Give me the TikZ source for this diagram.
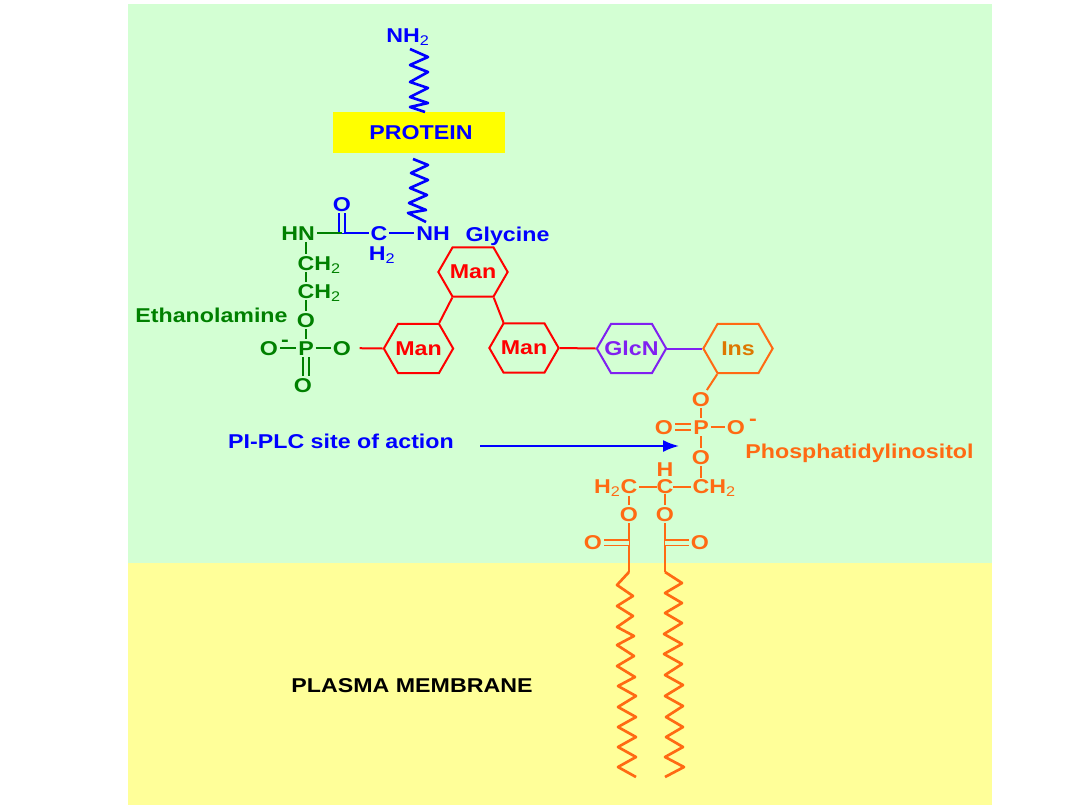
\documentclass[tikz,border=0pt]{standalone}
\usepackage{xcolor}
\usepackage{fontspec}
\setmainfont[FakeStretch=1.16]{Liberation Sans}
\definecolor{Mint}{HTML}{D3FFD3}
\definecolor{Butter}{HTML}{FFFF99}
\definecolor{Lemon}{HTML}{FFFF00}
\definecolor{Pblue}{HTML}{0000FF}
\definecolor{Pgreen}{HTML}{008000}
\definecolor{Pred}{HTML}{FF0000}
\definecolor{Ppurple}{HTML}{8020F0}
\definecolor{Porange}{HTML}{FF6A13}
\definecolor{Pamber}{HTML}{DD7700}
\usepackage{tikz}
\usetikzlibrary{arrows.meta,shapes.symbols}
\newcommand{\subtwo}{\textsubscript{\mdseries 2}}
\tikzset{
  atom/.style={font=\fontsize{15pt}{15pt}\bfseries,inner sep=0pt,outer sep=1.5pt,text height=10.5pt,text depth=0pt},
  tail/.style={atom,outer sep=0pt,xshift=-1.5pt},
  label/.style={font=\fontsize{15pt}{15pt}\bfseries,inner sep=0pt},
  hexa/.style={signal,signal to=east and west,signal pointer angle=120,draw,line width=1.5pt,
    minimum width=52pt,minimum height=37pt,inner sep=0pt,font=\fontsize{15pt}{15pt}\bfseries},
  bond/.style={line width=1.5pt},
  dbond/.style={line width=1.4pt,double=Mint,double distance=3pt},
  spine/.style={line width=2pt,line join=round}
}
\begin{document}
\begin{tikzpicture}[x=.75pt,y=-.75pt]
\fill[white] (0,0) rectangle (1080,810);
\useasboundingbox (0,0) rectangle (1080,810);
\fill[Mint] (128,4) rectangle (992,563);
\fill[Butter] (128,563) rectangle (992,805);
% protein part
\node[fill=Lemon,text=Pblue,label,minimum width=129pt,minimum height=31pt] (prot) at (419,132.5) {};
\node[label,text=Pblue] (protxt) at (421,133) {PROTEIN};
\node[atom,text=Pblue] (nhtwo) at (408,35) {NH\subtwo};
\coordinate (spa) at (410,49);
\coordinate (spb) at (425,112);
\coordinate (spc) at (413,159);
\coordinate (spd) at (426,222);
\draw[Pblue,spine] (spa)--(428,57)--(410,65)--(428,72)--(410,82)--(428,88)--(410,97)--(428,103)--(410,107)--(spb);
\draw[Pblue,spine] (spc)--(428,165)--(411,173)--(428,180)--(410,188)--(427,195)--(409,203)--(426,210)--(408,213)--(spd);
\node[atom,text=Pblue] (nh) at (433,233) {NH};
\node[atom,text=Pblue] (ca) at (379,233) {C};
\node[atom,text=Pblue] (hb) at (382,253) {H\subtwo};
\node[atom,text=Pblue] (oa) at (342,204) {O};
\node[label,text=Pblue] (gly) at (507.5,236) {Glycine};
\coordinate (cc) at (342,233);
\draw[bond,Pblue] (ca)--(nh);
\draw[bond,Pblue] (cc)--(ca);
\draw[dbond,Pblue] (oa)--(cc);
% ethanolamine part
\node[atom,text=Pgreen] (hn) at (298,233) {HN};
\node[atom,text=Pgreen] (cb) at (306,263) {C};
\node[tail,text=Pgreen,anchor=west] (hc) at (cb.east) {H\subtwo};
\node[atom,text=Pgreen] (cd) at (306,291) {C};
\node[tail,text=Pgreen,anchor=west] (he) at (cd.east) {H\subtwo};
\node[atom,text=Pgreen] (ob) at (306,320) {O};
\node[atom,text=Pgreen] (pa) at (306,348) {P};
\node[atom,text=Pgreen] (oc) at (269,348) {O};
\node[atom,text=Pgreen] (od) at (342,348) {O};
\node[atom,text=Pgreen] (oe) at (303,385) {O};
\node[label,text=Pgreen] (mina) at (285,343) {-};
\node[label,text=Pgreen] (etha) at (211.5,315) {Ethanolamine};
\draw[bond,Pgreen] (hn)--(cc);
\draw[bond,Pgreen] (cb |- hn.south)--(cb);
\draw[bond,Pgreen] (cb)--(cd);
\draw[bond,Pgreen] (cd)--(ob);
\draw[bond,Pgreen] (ob)--(pa);
\draw[bond,Pgreen] (oc)--(pa);
\draw[bond,Pgreen] (pa)--(od);
\draw[dbond,Pgreen] (pa)--(pa |- oe.north);
% sugars
\node[hexa,Pred] (mantop) at (473,272) {\makebox[0pt]{Man}};
\node[hexa,Pred] (manleft) at (418.5,348.5) {\makebox[0pt]{Man}};
\node[hexa,Pred] (manright) at (524,348) {\makebox[0pt]{Man}};
\node[hexa,Ppurple] (glcn) at (631.5,348.5) {\makebox[0pt]{GlcN}};
\node[hexa,Porange,text=Pamber] (ins) at (738,348.5) {\makebox[0pt]{Ins}};
\draw[bond,Pred,shorten <=5pt] (od)--(manleft.west);
\draw[bond,Pred] (mantop.231)--(manleft.51);
\draw[bond,Pred] (mantop.309)--(manright.129);
\draw[bond,Pred] (manright.east)--(glcn.west);
\draw[bond,Ppurple] (glcn.east)--(ins.west);
% phosphatidylinositol
\node[atom,text=Porange] (of) at (701,399) {O};
\node[atom,text=Porange] (pb) at (701,427) {P};
\node[atom,text=Porange] (og) at (664,427) {O};
\node[atom,text=Porange] (oh) at (736,427) {O};
\node[atom,text=Porange] (oi) at (701,457) {O};
\node[label,text=Porange] (minb) at (753,422) {-};
\node[label,text=Porange] (phos) at (859.5,453) {Phosphatidylinositol};
\node[atom,text=Porange,outer sep=0pt] (hk) at (665,469) {H};
\node[atom,text=Porange,outer sep=0pt] (ce) at (665,486.5) {C};
\node[atom,text=Porange] (cf) at (629,486.5) {C};
\node[tail,text=Porange,anchor=east,xshift=3pt] (hg) at (cf.west) {H\subtwo};
\node[atom,text=Porange] (cg) at (701,486.5) {C};
\node[tail,text=Porange,anchor=west] (hh) at (cg.east) {H\subtwo};
\node[atom,text=Porange] (oj) at (629,514) {O};
\node[atom,text=Porange] (ok) at (665,514) {O};
\node[atom,text=Porange] (ol) at (593,542.5) {O};
\node[atom,text=Porange] (om) at (700,542.5) {O};
\coordinate (tla) at (629,572);
\coordinate (tlb) at (636,777);
\coordinate (tra) at (665,572);
\coordinate (trb) at (665,777);
\coordinate (ja) at (629,542.5);
\coordinate (jb) at (665,542.5);
\draw[bond,Porange] (ins.231)--(of);
\draw[bond,Porange] (of)--(pb);
\draw[dbond,Porange] (og)--(pb);
\draw[bond,Porange] (pb)--(oh);
\draw[bond,Porange] (pb)--(oi);
\draw[bond,Porange] (oi)--(cg);
\draw[bond,Porange] (cf)--(ce);
\draw[bond,Porange] (ce)--(cg);
\draw[bond,Porange] (cf)--(oj);
\draw[bond,Porange] (ce)--(ok);
\draw[spine,Porange] (oj)--(tla);
\draw[spine,Porange] (ok)--(tra);
\draw[dbond,Porange] (ol)--(ja);
\draw[dbond,Porange] (jb)--(om);
\draw[Porange,spine] (tla)--(617,585)--(633,596)--(617,606)--(633,616)--(617,627)--(634,636)--(617,645)--(634,656)--(617,666)--(635,677)--(618,686)--(636,696)--(618,707)--(636,717)--(618,727)--(636,737)--(618,747)--(636,757)--(618,767)--(tlb);
\draw[Porange,spine] (tra)--(682,583)--(665,593)--(682,603)--(665,613)--(682,623)--(664,634)--(682,644)--(664,654)--(682,664)--(665,675)--(683,685)--(665,696)--(683,706)--(666,717)--(683,727)--(666,737)--(683,747)--(665,757)--(684,767)--(trb);
% site of action
\node[label,text=Pblue] (plc) at (341,441) {PI-PLC site of action};
\coordinate (sitea) at (480,446);
\coordinate (siteb) at (679,446);
\draw[-{Latex[length=12pt,width=9pt]},line width=1.5pt,Pblue] (sitea)--(siteb);
\node[label] (memb) at (412,686) {PLASMA MEMBRANE};
\end{tikzpicture}
\end{document}
